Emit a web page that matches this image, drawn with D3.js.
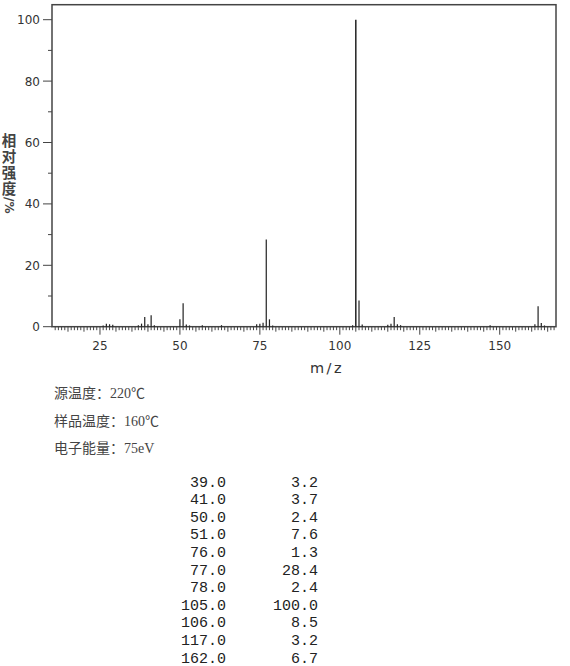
<!DOCTYPE html>
<html>
<head>
<meta charset="utf-8">
<script src="https://cdn.jsdelivr.net/npm/d3@7"></script>
<style>
body{margin:0;background:#fff;}
svg{display:block;}
</style>
</head>
<body>
<svg id="chart"></svg>
<script>
const w = 570, h = 666;
// spectrum peaks (m/z, relative intensity %)
const peakMz  = [26,27,28,29,37,38,39,40,41,42,50,51,52,53,57,63,74,75,76,77,78,79,104,105,106,107,115,116,117,118,119,147,161,162,163,164];
const peakInt = [0.4,1.0,0.8,0.6,0.5,1.0,3.2,0.8,3.7,0.5,2.4,7.6,0.7,0.4,0.5,0.5,0.8,1.0,1.3,28.4,2.4,0.4,0.5,100,8.5,0.7,0.6,1.0,3.2,0.8,0.5,0.5,0.8,6.7,1.2,0.4];
// listed peak table
const tableMz  = ["39.0","41.0","50.0","51.0","76.0","77.0","78.0","105.0","106.0","117.0","162.0"];
const tableInt = ["3.2","3.7","2.4","7.6","1.3","28.4","2.4","100.0","8.5","3.2","6.7"];
const infoLines = ["源温度：220℃","样品温度：160℃","电子能量：75eV"];
const xTicks = [25,50,75,100,125,150];
const yTicks = [0,20,40,60,80,100];

const svg = d3.select("#chart").attr("width",w).attr("height",h);

const pLeft = 52, pRight = 556, pTop = 4.7, pBottom = 326.7;
const x = d3.scaleLinear().domain([10,167.6]).range([pLeft,pRight]);
const y = d3.scaleLinear().domain([0,100]).range([pBottom,19.7]);

// frame
svg.append("rect").attr("x",pLeft).attr("y",pTop).attr("width",pRight-pLeft).attr("height",pBottom-pTop)
  .attr("fill","none").attr("stroke","#444").attr("stroke-width",1.5);

// x ticks (every 1, longer every 5 and 25)
const xMinor = d3.range(11,168);
svg.append("g").selectAll("line").data(xMinor).enter().append("line")
  .attr("x1",d=>x(d)).attr("x2",d=>x(d))
  .attr("y1",pBottom)
  .attr("y2",d=> d%25===0 ? pBottom+8 : (d%5===0 ? pBottom+5 : pBottom+3.5))
  .attr("stroke","#444").attr("stroke-width",1);

svg.append("g").selectAll("text").data(xTicks).enter().append("text")
  .attr("x",d=>x(d)).attr("y",pBottom+23)
  .attr("text-anchor","middle")
  .style("font-family","DejaVu Sans").style("font-size","12px").attr("fill","#333")
  .text(d=>d);

// y ticks
const yMinor = d3.range(0,101,10);
svg.append("g").selectAll("line").data(yMinor).enter().append("line")
  .attr("x1",d=> d%20===0 ? pLeft-9 : pLeft-4).attr("x2",pLeft)
  .attr("y1",d=>y(d)).attr("y2",d=>y(d))
  .attr("stroke","#444").attr("stroke-width",1);

svg.append("g").selectAll("text").data(yTicks).enter().append("text")
  .attr("x",pLeft-12).attr("y",d=>y(d)+4.5)
  .attr("text-anchor","end")
  .style("font-family","DejaVu Sans").style("font-size","12px").attr("fill","#333")
  .text(d=>d);

// peaks
svg.append("g").selectAll("line").data(peakMz).enter().append("line")
  .attr("x1",d=>x(d)).attr("x2",d=>x(d))
  .attr("y1",y(0)).attr("y2",(d,i)=>y(peakInt[i]))
  .attr("stroke","#222").attr("stroke-width",(d,i)=>peakInt[i]>50?1.5:1.2);

// axis titles
svg.append("text").attr("x",9).attr("y",133)
  .style("writing-mode","vertical-rl")
  .style("font-family","Noto Sans CJK SC").style("font-size","14.5px").style("font-weight","bold")
  .style("letter-spacing","1.5px").attr("fill","#444")
  .text("相对强度");
svg.append("text").attr("transform","translate(5,197) rotate(90)")
  .style("font-family","DejaVu Sans").style("font-size","12px").style("font-weight","bold")
  .attr("fill","#444")
  .text("/%");

svg.append("text").attr("x",327).attr("y",373).attr("text-anchor","middle")
  .style("font-family","DejaVu Sans").style("font-size","14.5px").style("letter-spacing","2.5px").attr("fill","#333")
  .text("m/z");

// info lines
svg.append("g").selectAll("text").data(infoLines).enter().append("text")
  .attr("x",54).attr("y",(d,i)=>398+i*27.5)
  .style("font-family","Liberation Serif, Noto Sans CJK SC").style("font-size","14px").attr("fill","#444")
  .text(d=>d);

// table
const rowY = d3.scaleLinear().domain([0,10]).range([486.5,662.5]);
const tbl = svg.append("g").style("font-family","Liberation Mono").style("font-size","15px").attr("fill","#222");
tbl.selectAll("text.mz").data(tableMz).enter().append("text").attr("class","mz")
  .attr("x",226).attr("y",(d,i)=>rowY(i)).attr("text-anchor","end").text(d=>d);
tbl.selectAll("text.in").data(tableInt).enter().append("text").attr("class","in")
  .attr("x",318).attr("y",(d,i)=>rowY(i)).attr("text-anchor","end").text(d=>d);
</script>
</body>
</html>
